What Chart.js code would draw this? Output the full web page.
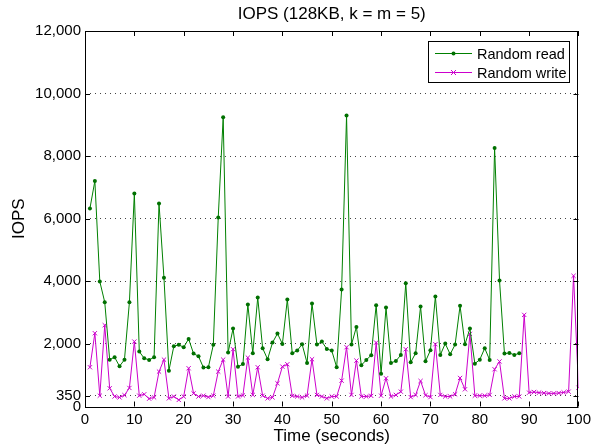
<!DOCTYPE html>
<html>
<head>
<meta charset="utf-8">
<script src="https://cdn.jsdelivr.net/npm/chart.js@4.4.0/dist/chart.umd.min.js"></script>
<style>
  body { margin: 0; background: #fff; }
  #wrap { width: 595px; height: 448px; }
</style>
</head>
<body>
<div id="wrap"><canvas id="iopsChart" width="595" height="448"></canvas></div>
<script>
// Datos (IOPS por segundo)
var seconds = [];
for (var i = 1; i <= 100; i++) seconds.push(i);

var randomRead = [
    6330, 7206, 3994, 3334, 1498, 1574, 1286, 1498, 3334, 6810,
    1754, 1541, 1488, 1574, 6490, 4112, 1146, 1925, 1970, 1893,
    2160, 1690, 1605, 1243, 1253, 1970, 6042, 9242, 1722, 2490,
    1270, 1355, 3258, 1702, 3482, 1862, 1510, 2042, 2330, 2000,
    3418, 1702, 1786, 1990, 1392, 3290, 1978, 2075, 1840, 1786,
    1254, 3738, 9296, 1978, 2544, 1318, 1488, 1638, 3238, 1050,
    3162, 1392, 1456, 1645, 3942, 1413, 1702, 3194, 1445, 1797,
    3514, 1648, 2010, 1670, 1978, 3216, 1990, 2490, 1370, 1498,
    1862, 1488, 8262, 4026, 1690, 1712, 1648, 1702
];

var randomWrite = [
    1254, 2342, 346, 2598, 582, 320, 290, 362, 592, 2075,
    346, 390, 250, 290, 1115, 1498, 260, 320, 210, 320,
    1222, 420, 320, 346, 300, 346, 1115, 1498, 320, 1830,
    320, 355, 1562, 370, 1254, 346, 260, 290, 742, 1274,
    1350, 340, 320, 290, 346, 1510, 370, 320, 260, 320,
    320, 826, 1894, 370, 1467, 320, 320, 340, 2042, 346,
    902, 320, 370, 474, 1830, 300, 370, 816, 360, 300,
    1990, 370, 320, 320, 390, 912, 550, 2320, 346, 346,
    346, 370, 1190, 1440, 260, 260, 320, 320, 2928, 442,
    464, 442, 430, 420, 420, 430, 450, 474, 4176, 602
];

var yTicks = [0, 350, 2000, 4000, 6000, 8000, 10000, 12000];
var xTicks = [0, 10, 20, 30, 40, 50, 60, 70, 80, 90, 100];
var chartTitle = 'IOPS (128KB, k = m = 5)';

var FONT = '"Liberation Sans", Arial, sans-serif';

function toPoints(values) {
    return values.map(function(v, idx) { return { x: seconds[idx], y: v }; });
}

// Caja, marcas interiores, título y leyenda al estilo Matlab
var matlabBox = {
    id: 'matlabBox',
    afterDraw: function(chart) {
        var ctx = chart.ctx;
        var a = chart.chartArea;
        var xs = chart.scales.x, ys = chart.scales.y;
        ctx.save();
        ctx.strokeStyle = '#000';
        ctx.lineWidth = 1;
        ctx.strokeRect(Math.round(a.left) + 0.5, Math.round(a.top) + 0.5,
                       Math.round(a.right - a.left) - 1, Math.round(a.bottom - a.top));

        ctx.beginPath();
        xTicks.forEach(function(t) {
            var px = Math.round(xs.getPixelForValue(t)) + 0.5;
            ctx.moveTo(px, a.bottom); ctx.lineTo(px, a.bottom - 5);
            ctx.moveTo(px, a.top); ctx.lineTo(px, a.top + 5);
        });
        yTicks.forEach(function(t) {
            var py = Math.round(ys.getPixelForValue(t)) + 0.5;
            ctx.moveTo(a.left, py); ctx.lineTo(a.left + 5, py);
            ctx.moveTo(a.right, py); ctx.lineTo(a.right - 5, py);
        });
        ctx.stroke();

        // título centrado sobre el área del gráfico
        ctx.fillStyle = '#000';
        ctx.font = '17px ' + FONT;
        ctx.textAlign = 'center';
        ctx.textBaseline = 'middle';
        ctx.fillText(chartTitle, (a.left + a.right) / 2, 14);

        // leyenda
        var bx = 428, by = 41, bw = 141, bh = 41;
        ctx.fillStyle = '#fff';
        ctx.fillRect(bx, by, bw, bh);
        ctx.strokeStyle = '#000';
        ctx.strokeRect(bx + 0.5, by + 0.5, bw, bh);
        ctx.font = '14.5px ' + FONT;
        ctx.textAlign = 'left';
        chart.data.datasets.forEach(function(ds, k) {
            var cy = 53.5 + k * 19;
            ctx.strokeStyle = ds.borderColor;
            ctx.beginPath();
            ctx.moveTo(435, cy); ctx.lineTo(472, cy);
            ctx.stroke();
            var cx = 453.5;
            if (ds.pointStyle === 'circle') {
                ctx.fillStyle = ds.pointBackgroundColor;
                ctx.beginPath(); ctx.arc(cx, cy, 2, 0, Math.PI * 2); ctx.fill();
            } else {
                ctx.beginPath();
                ctx.moveTo(cx - 2.5, cy - 2.5); ctx.lineTo(cx + 2.5, cy + 2.5);
                ctx.moveTo(cx - 2.5, cy + 2.5); ctx.lineTo(cx + 2.5, cy - 2.5);
                ctx.stroke();
            }
            ctx.fillStyle = '#000';
            ctx.fillText(ds.label, 477, cy + 1);
        });
        ctx.restore();
    }
};

var ctx = document.getElementById('iopsChart').getContext('2d');
var chart = new Chart(ctx, {
    type: 'line',
    data: {
        datasets: [
            {
                label: 'Random read',
                data: toPoints(randomRead),
                borderColor: '#008000',
                borderWidth: 1,
                pointStyle: 'circle',
                pointRadius: 2,
                pointBackgroundColor: '#007000',
                pointBorderColor: '#007000',
                pointBorderWidth: 0,
                tension: 0
            },
            {
                label: 'Random write',
                data: toPoints(randomWrite),
                borderColor: '#cc00cc',
                borderWidth: 1,
                pointStyle: 'crossRot',
                pointRadius: 3,
                pointBorderColor: '#cc00cc',
                pointBorderWidth: 1,
                tension: 0
            }
        ]
    },
    options: {
        responsive: false,
        animation: false,
        layout: { padding: { top: 31, right: 12, left: 0, bottom: 0 } },
        plugins: {
            legend: { display: false },
            title: { display: false },
            tooltip: { enabled: false }
        },
        scales: {
            x: {
                type: 'linear',
                min: 0,
                max: 100,
                afterFit: function(scale) { scale.height = 41.5; },
                afterBuildTicks: function(scale) {
                    scale.ticks = xTicks.map(function(v) { return { value: v }; });
                },
                grid: { display: false, drawTicks: false },
                border: { display: false },
                ticks: {
                    autoSkip: false,
                    maxRotation: 0,
                    padding: 4,
                    color: '#000',
                    font: { family: FONT, size: 15 }
                },
                title: {
                    display: true,
                    text: 'Time (seconds)',
                    color: '#000',
                    padding: { top: 0, bottom: 1 },
                    font: { family: FONT, size: 17 }
                }
            },
            y: {
                type: 'linear',
                min: 0,
                max: 12000,
                afterFit: function(scale) { scale.width = 85; },
                afterBuildTicks: function(scale) {
                    scale.ticks = yTicks.map(function(v) { return { value: v }; });
                },
                grid: {
                    drawTicks: false,
                    color: function(c) {
                        var v = c.tick ? c.tick.value : 0;
                        return (v === 0 || v === 12000) ? 'rgba(0,0,0,0)' : '#444';
                    }
                },
                border: { display: false, dash: [1, 4] },
                ticks: {
                    autoSkip: false,
                    padding: 4,
                    color: '#000',
                    font: { family: FONT, size: 15 },
                    callback: function(v) { return v.toLocaleString('en-US'); }
                },
                title: {
                    display: true,
                    text: 'IOPS',
                    color: '#000',
                    padding: { top: 9, bottom: 0 },
                    font: { family: FONT, size: 17 }
                }
            }
        }
    },
    plugins: [matlabBox]
});
</script>
</body>
</html>
